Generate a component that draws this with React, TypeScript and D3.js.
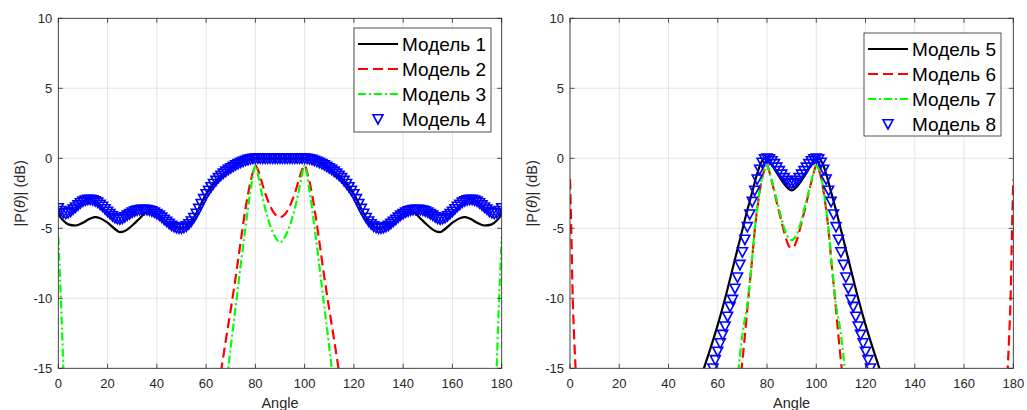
import React from 'react';
import * as d3 from 'd3';

// ---------- axis ticks ----------
const X_TICKS = [0, 20, 40, 60, 80, 100, 120, 140, 160, 180];
const Y_TICKS = [-15, -10, -5, 0, 5, 10];
const X_DOMAIN = [0, 180];
const Y_DOMAIN = [-15, 10];

const LEGEND_LEFT = ['Модель 1', 'Модель 2', 'Модель 3', 'Модель 4'];
const LEGEND_RIGHT = ['Модель 5', 'Модель 6', 'Модель 7', 'Модель 8'];

// ---------- left panel ----------
const M1_ANG = [0, 2, 4, 7, 10, 13, 15, 17, 20, 23, 25, 27, 30, 33, 36, 40, 45, 50, 55, 60, 65, 70, 75, 80, 90,
  100, 105, 110, 115, 120, 125, 130, 135, 140, 144, 147, 150, 153, 155, 157, 160, 163, 165, 167, 170, 173, 176, 178, 180];
const M1_VAL = [-4.0, -4.45, -4.72, -4.8, -4.6, -4.3, -4.2, -4.28, -4.6, -5.05, -5.28, -5.2, -4.8, -4.3, -3.85, -3.96, -4.66, -5.0, -4.25, -2.55, -1.4, -0.7, -0.23, 0, 0,
  0, -0.23, -0.7, -1.4, -2.55, -4.25, -5.0, -4.66, -3.96, -3.85, -4.3, -4.8, -5.2, -5.28, -5.05, -4.6, -4.28, -4.2, -4.3, -4.6, -4.8, -4.72, -4.45, -4.0];

const M2_ANG = [66, 68, 70, 72, 74, 76, 78, 79, 80, 81, 82, 84, 86, 88, 90, 92, 94, 96, 98, 99, 100, 101, 102, 104, 106, 108, 110, 112, 114];
const M2_VAL = [-15.3, -13.0, -10.8, -8.5, -6.0, -3.6, -1.7, -1.0, -0.5, -0.8, -1.35, -2.5, -3.4, -4.0, -4.2, -4.0, -3.4, -2.5, -1.35, -0.8, -0.5, -1.0, -1.7, -3.6, -6.0, -8.5, -10.8, -13.0, -15.3];

const M3_EDGE_L_ANG = [0, 0.5, 1, 1.5, 2, 2.3];
const M3_EDGE_L_VAL = [-5.6, -7.8, -9.8, -12.2, -14.8, -16];
const M3_ANG = [68.5, 70, 72, 74, 76, 78, 79, 80, 81, 82, 84, 86, 88, 90, 92, 94, 96, 98, 99, 100, 101, 102, 104, 106, 108, 110, 111.5];
const M3_VAL = [-15.8, -13.5, -10.6, -7.7, -4.9, -2.3, -1.2, -0.5, -1.1, -2.0, -3.6, -4.8, -5.6, -6.0, -5.6, -4.8, -3.6, -2.0, -1.1, -0.5, -1.2, -2.3, -4.9, -7.7, -10.6, -13.5, -15.8];
const M3_EDGE_R_ANG = [177.7, 178, 178.5, 179, 179.5, 180];
const M3_EDGE_R_VAL = [-16, -14.8, -12.2, -9.8, -7.8, -5.6];

// Model 4: one marker per degree, 0..180
const M4_ANG = d3.range(0, 181);
const M4_VAL = [
  -3.55, -3.75, -3.9, -3.95, -3.9, -3.8, -3.65, -3.5, -3.35, -3.2,
  -3.08, -3.0, -2.95, -2.95, -2.98, -3.05, -3.15, -3.3, -3.45, -3.62,
  -3.8, -3.97, -4.12, -4.25, -4.33, -4.35, -4.3, -4.2, -4.08, -3.96,
  -3.86, -3.78, -3.72, -3.68, -3.66, -3.66, -3.68, -3.72, -3.78, -3.86,
  -3.96, -4.08, -4.22, -4.37, -4.52, -4.66, -4.8, -4.9, -4.97, -5.0,
  -5.0, -4.95, -4.85, -4.7, -4.5, -4.25, -3.95, -3.6, -3.25, -2.9,
  -2.55, -2.3, -2.05, -1.82, -1.6, -1.4, -1.24, -1.08, -0.94, -0.81,
  -0.7, -0.59, -0.49, -0.4, -0.31, -0.23, -0.16, -0.1, -0.05, -0.02,
  0, 0, 0, 0, 0, 0, 0, 0, 0, 0, 0,
  0, 0, 0, 0, 0, 0, 0, 0, 0, 0,
  -0.02, -0.05, -0.1, -0.16, -0.23, -0.31, -0.4, -0.49, -0.59, -0.7,
  -0.81, -0.94, -1.08, -1.24, -1.4, -1.6, -1.82, -2.05, -2.3, -2.55,
  -2.9, -3.25, -3.6, -3.95, -4.25, -4.5, -4.7, -4.85, -4.95, -5.0,
  -5.0, -4.97, -4.9, -4.8, -4.66, -4.52, -4.37, -4.22, -4.08, -3.96,
  -3.86, -3.78, -3.72, -3.68, -3.66, -3.66, -3.68, -3.72, -3.78, -3.86,
  -3.96, -4.08, -4.2, -4.3, -4.35, -4.33, -4.25, -4.12, -3.97, -3.8,
  -3.62, -3.45, -3.3, -3.15, -3.05, -2.98, -2.95, -2.95, -3.0, -3.08,
  -3.2, -3.35, -3.5, -3.65, -3.8, -3.9, -3.95, -3.9, -3.75, -3.55,
];

// ---------- right panel ----------
const M5_ANG = [54, 57, 60, 63, 66, 68, 70, 72, 74, 76, 77.5, 79, 80, 81, 82, 84, 86, 88, 90,
  92, 94, 96, 98, 99, 100, 101, 102.5, 104, 106, 108, 110, 112, 114, 117, 120, 123, 126];
const M5_VAL = [-15.2, -13.6, -11.9, -10.0, -7.9, -6.5, -5.1, -3.7, -2.4, -1.1, -0.35, 0, -0.05, -0.2, -0.45, -1.05, -1.6, -2.05, -2.3,
  -2.05, -1.6, -1.05, -0.45, -0.2, -0.05, 0, -0.35, -1.1, -2.4, -3.7, -5.1, -6.5, -7.9, -10.0, -11.9, -13.6, -15.2];

const M6_EDGE_L_ANG = [0, 0.5, 1.1, 1.7, 2.4];
const M6_EDGE_L_VAL = [-1.5, -5, -10, -12.8, -15.5];
const M6_ANG = [69.5, 71, 72.4, 73.8, 75.1, 76.5, 77.8, 79, 80, 81, 82, 83, 84, 85, 86, 87, 88, 89, 90,
  91, 92, 93, 94, 95, 96, 97, 98, 99, 100, 101, 102.2, 103.5, 104.9, 106.2, 107.6, 109, 110.5];
const M6_VAL = [-15.3, -12.7, -10.0, -7.5, -5.0, -3.0, -1.6, -0.8, -0.5, -1.0, -1.7, -2.4, -3.2, -3.9, -4.6, -5.3, -5.9, -6.3, -6.4,
  -6.3, -5.9, -5.3, -4.6, -3.9, -3.2, -2.4, -1.7, -1.0, -0.5, -0.8, -1.6, -3.0, -5.0, -7.5, -10.0, -12.7, -15.3];
const M6_EDGE_R_ANG = [177.6, 178.3, 178.9, 179.5, 180];
const M6_EDGE_R_VAL = [-15.5, -12.8, -10, -5, -1.5];

const M7_ANG = [68.3, 70, 72.4, 73.8, 75.1, 76.5, 77.8, 79, 80, 81, 82, 83, 84, 85, 86, 87, 88, 89, 90,
  91, 92, 93, 94, 95, 96, 97, 98, 99, 100, 101, 102.2, 103.5, 104.9, 106.2, 107.6, 110, 111.7];
const M7_VAL = [-15.3, -12.6, -9.9, -7.4, -4.9, -2.9, -1.5, -0.8, -0.5, -1.0, -1.6, -2.3, -3.0, -3.7, -4.4, -5.0, -5.45, -5.75, -5.85,
  -5.75, -5.45, -5.0, -4.4, -3.7, -3.0, -2.3, -1.6, -1.0, -0.5, -0.8, -1.5, -2.9, -4.9, -7.4, -9.9, -12.6, -15.3];

// Model 8: one marker per degree, 58..122
const M8_ANG = d3.range(58, 123);
const M8_VAL = [
  -15.0, -14.4, -13.8, -13.2, -12.6, -12.0, -11.3, -10.6, -10.1, -9.3,
  -8.5, -7.6, -6.7, -5.8, -4.9, -4.0, -3.1, -2.3, -1.5, -0.8,
  -0.3, -0.05, 0, -0.05, -0.2, -0.4, -0.65, -0.9, -1.15, -1.4,
  -1.6, -1.75, -1.8,
  -1.75, -1.6, -1.4, -1.15, -0.9, -0.65, -0.4, -0.2, -0.05, 0,
  -0.05, -0.3, -0.8, -1.5, -2.3, -3.1, -4.0, -4.9, -5.8, -6.7,
  -7.6, -8.5, -9.3, -10.1, -10.6, -11.3, -12.0, -12.6, -13.2, -13.8,
  -14.4, -15.0,
];

// ---------- layout ----------
const W = 1027;
const H = 410;
const Y_TOP = 18.3;
const Y_BOT = 368.3;
const TXT = '#262626';
const FONT = '"Liberation Sans", Arial, Helvetica, sans-serif';

type Seg = { ang: number[]; val: number[] };
type LineSpec = { segs: Seg[]; color: string; dash?: string; width: number };

const zip = (a: number[], b: number[]): [number, number][] => a.map((v, i) => [v, b[i]]);

const TRI = 'M-5,-4.3 L5,-4.3 L0,5 Z';
const TRI_W = 1.6;

function Panel(props: {
  id: string;
  x0: number;
  x1: number;
  lines: LineSpec[];
  markers: Seg;
  labels: string[];
  legend: { x: number; y: number; w: number; h: number };
}) {
  const { id, x0, x1, lines, markers, labels, legend } = props;
  const x = d3.scaleLinear().domain(X_DOMAIN).range([x0, x1]);
  const y = d3.scaleLinear().domain(Y_DOMAIN).range([Y_BOT, Y_TOP]);
  const lineGen = d3
    .line<[number, number]>()
    .x((d) => x(d[0]))
    .y((d) => y(d[1]))
    .curve(d3.curveMonotoneX);
  const tl = 4.5;
  const legendStyles = [lines[0], lines[1], lines[2]];
  const rowH = 25;
  return (
    <g>
      <defs>
        <clipPath id={id}>
          <rect x={x0} y={Y_TOP} width={x1 - x0} height={Y_BOT - Y_TOP} />
        </clipPath>
      </defs>
      <rect x={x0} y={Y_TOP} width={x1 - x0} height={Y_BOT - Y_TOP} fill="#fff" />
      {/* grid */}
      {X_TICKS.map((t) => (
        <line key={'gx' + t} x1={x(t)} x2={x(t)} y1={Y_TOP} y2={Y_BOT} stroke="#dedede" strokeWidth={0.8} />
      ))}
      {Y_TICKS.map((t) => (
        <line key={'gy' + t} x1={x0} x2={x1} y1={y(t)} y2={y(t)} stroke="#dedede" strokeWidth={0.8} />
      ))}
      <g clipPath={`url(#${id})`}>
        {lines.map((l, i) =>
          l.segs.map((s, j) => (
            <path
              key={i + '-' + j}
              d={lineGen(zip(s.ang, s.val)) || ''}
              fill="none"
              stroke={l.color}
              strokeWidth={l.width}
              strokeDasharray={l.dash}
            />
          ))
        )}
        {markers.ang.map((a, i) =>
          markers.val[i] >= Y_DOMAIN[0] ? (
            <path
              key={'m' + i}
              d={TRI}
              transform={`translate(${x(a)},${y(markers.val[i])})`}
              fill="none"
              stroke="#0000ff"
              strokeWidth={TRI_W}
            />
          ) : null
        )}
      </g>
      {/* box */}
      <rect x={x0} y={Y_TOP} width={x1 - x0} height={Y_BOT - Y_TOP} fill="none" stroke={TXT} strokeWidth={0.8} />
      {/* ticks */}
      {X_TICKS.map((t) => (
        <g key={'tx' + t}>
          <line x1={x(t)} x2={x(t)} y1={Y_BOT} y2={Y_BOT - tl} stroke={TXT} strokeWidth={0.8} />
          <line x1={x(t)} x2={x(t)} y1={Y_TOP} y2={Y_TOP + tl} stroke={TXT} strokeWidth={0.8} />
          <text x={x(t)} y={Y_BOT + 19.5} textAnchor="middle" fontSize={13} fill={TXT} fontFamily={FONT}>
            {t}
          </text>
        </g>
      ))}
      {Y_TICKS.map((t) => (
        <g key={'ty' + t}>
          <line x1={x0} x2={x0 + tl} y1={y(t)} y2={y(t)} stroke={TXT} strokeWidth={0.8} />
          <line x1={x1} x2={x1 - tl} y1={y(t)} y2={y(t)} stroke={TXT} strokeWidth={0.8} />
          <text x={x0 - 6} y={y(t) + 4.6} textAnchor="end" fontSize={13} fill={TXT} fontFamily={FONT}>
            {t}
          </text>
        </g>
      ))}
      {/* axis labels */}
      <text x={(x0 + x1) / 2} y={408} textAnchor="middle" fontSize={14.5} fill={TXT} fontFamily={FONT}>
        Angle
      </text>
      <text
        transform={`translate(${x0 - 33},${(Y_TOP + Y_BOT) / 2}) rotate(-90)`}
        textAnchor="middle"
        fontSize={14.5}
        fill={TXT}
        fontFamily={FONT}
      >
        |P(<tspan fontStyle="italic">θ</tspan>)| (dB)
      </text>
      {/* legend */}
      <rect x={legend.x} y={legend.y} width={legend.w} height={legend.h} fill="#fff" stroke={TXT} strokeWidth={0.8} />
      {labels.map((lab, i) => {
        const cy = legend.y + 16 + i * rowH;
        return (
          <g key={lab}>
            {i < 3 ? (
              <line
                x1={legend.x + 4}
                x2={legend.x + 44}
                y1={cy}
                y2={cy}
                stroke={legendStyles[i].color}
                strokeWidth={legendStyles[i].width}
                strokeDasharray={legendStyles[i].dash}
              />
            ) : (
              <path d={TRI} transform={`translate(${legend.x + 24},${cy})`} fill="none" stroke="#0000ff" strokeWidth={TRI_W} />
            )}
            <text x={legend.x + 48} y={cy + 6.8} fontSize={19} fill="#000" fontFamily={FONT}>
              {lab}
            </text>
          </g>
        );
      })}
    </g>
  );
}

export default function App() {
  const leftLines: LineSpec[] = [
    { segs: [{ ang: M1_ANG, val: M1_VAL }], color: '#000000', width: 2.2 },
    { segs: [{ ang: M2_ANG, val: M2_VAL }], color: '#ff0000', width: 2.2, dash: '10,5' },
    {
      segs: [
        { ang: M3_EDGE_L_ANG, val: M3_EDGE_L_VAL },
        { ang: M3_ANG, val: M3_VAL },
        { ang: M3_EDGE_R_ANG, val: M3_EDGE_R_VAL },
      ],
      color: '#00ff00',
      width: 2.2,
      dash: '8,3,2,3',
    },
  ];
  const rightLines: LineSpec[] = [
    { segs: [{ ang: M5_ANG, val: M5_VAL }], color: '#000000', width: 2.2 },
    {
      segs: [
        { ang: M6_EDGE_L_ANG, val: M6_EDGE_L_VAL },
        { ang: M6_ANG, val: M6_VAL },
        { ang: M6_EDGE_R_ANG, val: M6_EDGE_R_VAL },
      ],
      color: '#ff0000',
      width: 2.2,
      dash: '10,5',
    },
    { segs: [{ ang: M7_ANG, val: M7_VAL }], color: '#00ff00', width: 2.2, dash: '8,3,2,3' },
  ];
  return (
    <svg
      width={W}
      height={H}
      viewBox={`0 0 ${W} ${H}`}
      style={{ position: 'absolute', left: 0, top: 0, background: '#fff' }}
    >
      <rect x={0} y={0} width={W} height={H} fill="#fff" />
      <Panel
        id="clipL"
        x0={58.3}
        x1={501.7}
        lines={leftLines}
        markers={{ ang: M4_ANG, val: M4_VAL }}
        labels={LEGEND_LEFT}
        legend={{ x: 354, y: 28, w: 137, h: 104 }}
      />
      <Panel
        id="clipR"
        x0={570}
        x1={1013.3}
        lines={rightLines}
        markers={{ ang: M8_ANG, val: M8_VAL }}
        labels={LEGEND_RIGHT}
        legend={{ x: 864, y: 33, w: 137, h: 103 }}
      />
    </svg>
  );
}
